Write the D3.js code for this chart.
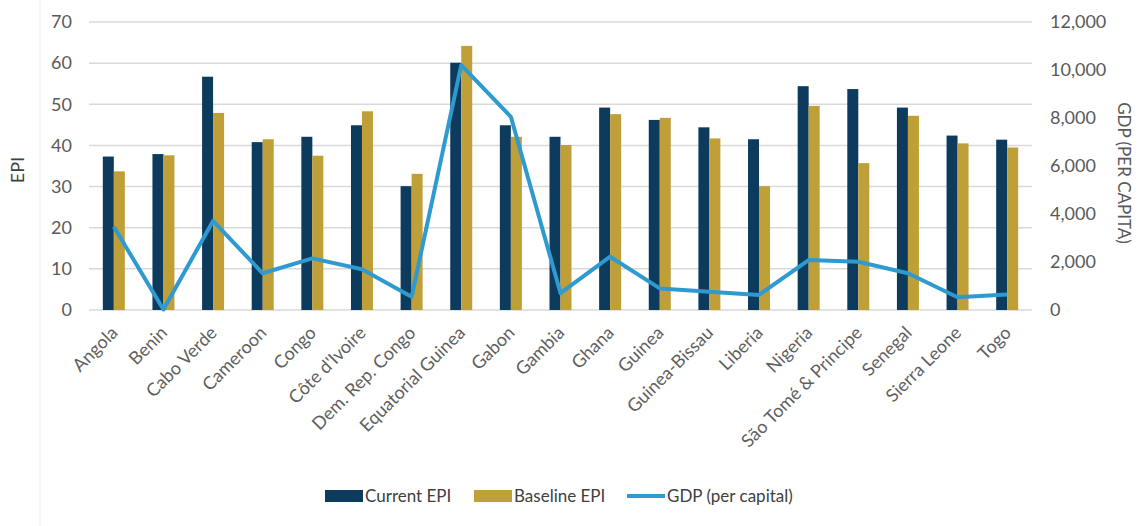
<!DOCTYPE html>
<html>
<head>
<meta charset="utf-8">
<script src="https://cdn.jsdelivr.net/npm/d3@7"></script>
<style>
  body { margin: 0; background: #fff; }
  svg text { font-family: Lato, "Open Sans", sans-serif; }
</style>
</head>
<body>
<div id="chart"></div>
<script>
const countries = ["Angola", "Benin", "Cabo Verde", "Cameroon", "Congo", "Côte d'Ivoire", "Dem. Rep. Congo",
  "Equatorial Guinea", "Gabon", "Gambia", "Ghana", "Guinea", "Guinea-Bissau", "Liberia", "Nigeria",
  "São Tomé & Principe", "Senegal", "Sierra Leone", "Togo"];
const currentEPI  = [37.3, 37.9, 56.7, 40.8, 42.1, 44.9, 30.1, 60.1, 44.9, 42.1, 49.2, 46.2, 44.4, 41.5, 54.4, 53.7, 49.2, 42.4, 41.4];
const baselineEPI = [33.7, 37.6, 47.9, 41.5, 37.5, 48.3, 33.1, 64.2, 42.1, 40.1, 47.6, 46.7, 41.7, 30.1, 49.6, 35.7, 47.2, 40.5, 39.5];
const gdp         = [3470, 20, 3710, 1530, 2150, 1700, 550, 10200, 8050, 700, 2220, 900, 760, 630, 2080, 2010, 1530, 530, 650];
const epiTicks = [0, 10, 20, 30, 40, 50, 60, 70];
const gdpTicks = [0, 2000, 4000, 6000, 8000, 10000, 12000];

const W = 1139, H = 526;
const margin = {top: 22, right: 107, bottom: 216, left: 89};
const width = W - margin.left - margin.right;
const height = H - margin.top - margin.bottom;

const svg = d3.select("#chart").append("svg")
  .attr("width", W).attr("height", H);

// faint frame line on the left, as in the source image
svg.append("line").attr("x1", 40).attr("x2", 40).attr("y1", 0).attr("y2", H)
  .attr("stroke", "#f0f0f0").attr("stroke-width", 1);

const g = svg.append("g").attr("transform", "translate(" + margin.left + "," + margin.top + ")");

const x = d3.scaleBand().domain(countries).range([0, width]).padding(0);
const sub = d3.scaleBand().domain(["cur", "base"]).range([0, 22]);
const y = d3.scaleLinear().domain([0, 70]).range([height, 0]);
const y2 = d3.scaleLinear().domain([0, 12000]).range([height, 0]);

// gridlines
g.append("g").selectAll("line").data(epiTicks).enter().append("line")
  .attr("x1", 0).attr("x2", width)
  .attr("y1", d => y(d)).attr("y2", d => y(d))
  .attr("stroke", "#d9d9d9").attr("stroke-width", 1.5);

// left axis labels
const yAxis = d3.axisLeft(y).tickValues(epiTicks).tickSize(0).tickPadding(17);
g.append("g").call(yAxis)
  .call(a => a.select(".domain").remove())
  .selectAll("text").attr("font-size", 18).attr("fill", "#595959");

const yAxis2 = d3.axisRight(y2).tickValues(gdpTicks).tickSize(0).tickPadding(18)
  .tickFormat(d3.format(","));
g.append("g").attr("transform", "translate(" + width + ",0)").call(yAxis2)
  .call(a => a.select(".domain").remove())
  .selectAll("text").attr("font-size", 18).attr("fill", "#595959");

// bars
const groups = g.selectAll(".grp").data(countries).enter().append("g")
  .attr("transform", d => "translate(" + (x(d) + x.bandwidth() / 2 - 11) + ",0)");

groups.append("rect")
  .attr("x", sub("cur")).attr("width", sub.bandwidth())
  .attr("y", (d, i) => y(currentEPI[i])).attr("height", (d, i) => height - y(currentEPI[i]))
  .attr("fill", "#0d3b5e");
groups.append("rect")
  .attr("x", sub("base")).attr("width", sub.bandwidth())
  .attr("y", (d, i) => y(baselineEPI[i])).attr("height", (d, i) => height - y(baselineEPI[i]))
  .attr("fill", "#bf9f38");

// GDP line
const line = d3.line()
  .x((d, i) => x(countries[i]) + x.bandwidth() / 2)
  .y(d => y2(d));
g.append("path").datum(gdp)
  .attr("d", line)
  .attr("fill", "none")
  .attr("stroke", "#2e9ad0")
  .attr("stroke-width", 4)
  .attr("stroke-linejoin", "round");

// x labels
const xAxis = d3.axisBottom(x).tickSize(0).tickPadding(0);
g.append("g").attr("transform", "translate(0," + height + ")").call(xAxis)
  .call(a => a.select(".domain").remove())
  .selectAll("text")
  .attr("font-size", 18).attr("fill", "#5f5f5f")
  .attr("text-anchor", "end")
  .attr("dy", "0")
  .attr("transform", "translate(5,24) rotate(-45)");

// axis titles
svg.append("text").attr("transform", "translate(24,170) rotate(-90)")
  .attr("text-anchor", "middle").attr("font-size", 18).attr("fill", "#404040").text("EPI");
svg.append("text").attr("transform", "translate(1118,173) rotate(90)")
  .attr("text-anchor", "middle").attr("font-size", 17).attr("fill", "#595959").text("GDP (PER CAPITA)");

// legend
const legendItems = [
  {label: "Current EPI", color: "#0d3b5e", type: "rect", x: 325},
  {label: "Baseline EPI", color: "#bf9f38", type: "rect", x: 474},
  {label: "GDP (per capital)", color: "#2e9ad0", type: "line", x: 627}
];
const legend = svg.append("g").selectAll("g").data(legendItems).enter().append("g")
  .attr("transform", d => "translate(" + d.x + ",496)");
legend.filter(d => d.type === "rect").append("rect")
  .attr("x", 0).attr("y", -6).attr("width", 38).attr("height", 12).attr("fill", d => d.color);
legend.filter(d => d.type === "line").append("line")
  .attr("x1", 0).attr("x2", 38).attr("y1", 0).attr("y2", 0)
  .attr("stroke", d => d.color).attr("stroke-width", 4);
legend.append("text").attr("x", 40).attr("y", 0).attr("dy", "0.35em")
  .attr("font-size", 17).attr("fill", "#404040").text(d => d.label);
</script>
</body>
</html>
